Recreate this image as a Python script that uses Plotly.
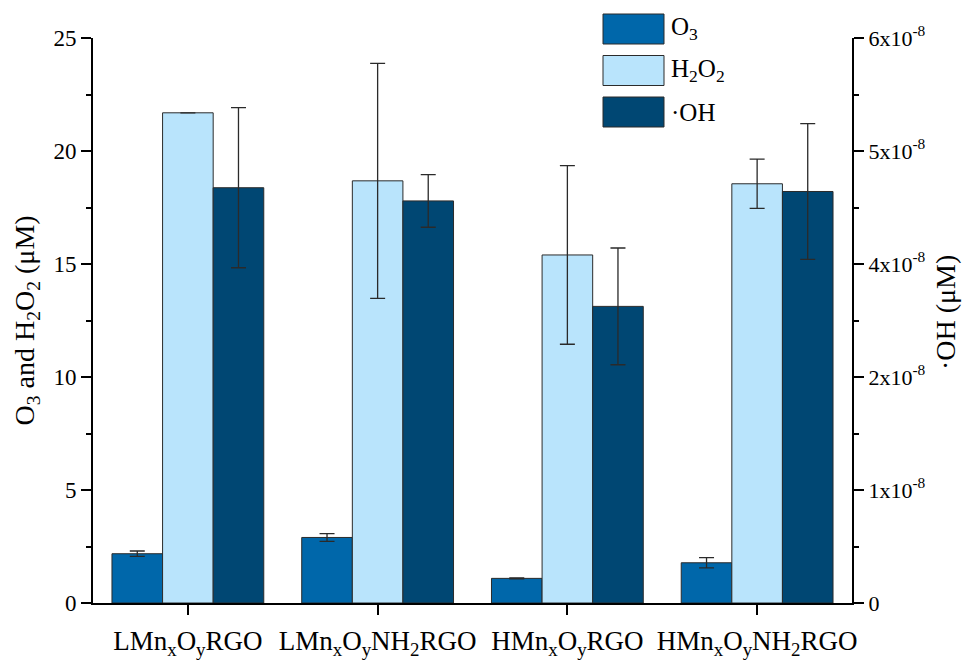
import plotly.graph_objects as go

# Samples and measured concentrations (μM)
samples = [
    "LMn<sub>x</sub>O<sub>y</sub>RGO",
    "LMn<sub>x</sub>O<sub>y</sub>NH<sub>2</sub>RGO",
    "HMn<sub>x</sub>O<sub>y</sub>RGO",
    "HMn<sub>x</sub>O<sub>y</sub>NH<sub>2</sub>RGO",
]
o3 = [2.18, 2.90, 1.09, 1.78]
o3_err = [0.12, 0.17, 0.02, 0.23]
h2o2 = [21.69, 18.68, 15.40, 18.55]
h2o2_err = [None, 5.20, 3.95, 1.09]
oh = [4.41e-8, 4.27e-8, 3.15e-8, 4.37e-8]
oh_err = [0.85e-8, 0.28e-8, 0.62e-8, 0.72e-8]

# Right-axis ticks and their printed labels
oh_tickvals = [0, 1.2e-8, 2.4e-8, 3.6e-8, 4.8e-8, 6.0e-8]
oh_ticktext = ["0", "1x10<sup>-8</sup>", "2x10<sup>-8</sup>", "4x10<sup>-8</sup>",
               "5x10<sup>-8</sup>", "6x10<sup>-8</sup>"]

names = ["O<sub>3</sub>", "H<sub>2</sub>O<sub>2</sub>", "·OH"]
colors = ["#0067aa", "#b9e4fc", "#004773"]

FONT = "Liberation Serif, Times New Roman, serif"
x = list(range(len(samples)))
bw = 0.8 / 3
outline = dict(color="#2b2b2b", width=1)


def err(vals):
    return dict(type="data", array=vals, visible=True, color="#2a2a2a",
                thickness=1.3, width=7.5)


fig = go.Figure()
fig.add_trace(go.Bar(x=x, y=o3, name=names[0], width=bw, offset=-0.4,
                     marker=dict(color=colors[0], line=outline), error_y=err(o3_err)))
fig.add_trace(go.Bar(x=x, y=h2o2, name=names[1], width=bw, offset=-0.4 + bw,
                     marker=dict(color=colors[1], line=outline), error_y=err(h2o2_err)))
fig.add_trace(go.Bar(x=x, y=oh, name=names[2], width=bw, offset=-0.4 + 2 * bw,
                     marker=dict(color=colors[2], line=outline), error_y=err(oh_err),
                     yaxis="y2"))

axis_common = dict(showline=True, linecolor="black", linewidth=2, ticks="outside",
                   tickcolor="black", tickwidth=2, ticklen=10, showgrid=False,
                   zeroline=False, automargin=False)

fig.update_layout(
    width=964, height=660,
    margin=dict(l=93, r=112, t=38, b=57),
    plot_bgcolor="white", paper_bgcolor="white",
    barmode="overlay", showlegend=False,
    font=dict(family=FONT, color="black", size=22),
    xaxis=dict(**axis_common, range=[-0.5, 3.5], tickmode="array", tickvals=x,
               ticktext=samples, tickfont=dict(size=27), tickangle=0,
               ticklabelstandoff=3),
    yaxis=dict(**axis_common, range=[0, 25], tickvals=[0, 5, 10, 15, 20, 25],
               tickfont=dict(size=23),
               minor=dict(ticks="outside", ticklen=5, tickwidth=2, tickcolor="black",
                          tick0=0, dtick=2.5)),
    yaxis2=dict(**axis_common, overlaying="y", side="right", range=[0, 6e-8],
                tickmode="array", tickvals=oh_tickvals, ticktext=oh_ticktext,
                tickfont=dict(size=22),
                minor=dict(ticks="outside", ticklen=5, tickwidth=2, tickcolor="black",
                           tickmode="linear", tick0=0, dtick=0.6e-8)),
)

# Axis titles
fig.add_annotation(text="O<sub>3</sub> and H<sub>2</sub>O<sub>2</sub> (μM)",
                   xref="paper", yref="paper", x=-0.087, y=0.50, textangle=-90,
                   showarrow=False, xanchor="center", yanchor="middle",
                   font=dict(size=28))
fig.add_annotation(text="·OH (μM)", xref="paper", yref="paper", x=1.1225, y=0.515,
                   textangle=-90, showarrow=False, xanchor="center", yanchor="middle",
                   font=dict(size=28))

# Legend drawn as large swatches at the top
plot_w, plot_h = 759, 565
for i, (nm, col) in enumerate(zip(names, colors)):
    top_px = 14 + i * 41.5
    y1 = (565 - (top_px - 38)) / plot_h
    y0 = y1 - 30 / plot_h
    fig.add_shape(type="rect", xref="paper", yref="paper",
                  x0=(603 - 93) / plot_w, x1=(664 - 93) / plot_w, y0=y0, y1=y1,
                  fillcolor=col, line=dict(color="#2b2b2b", width=1))
    fig.add_annotation(text=nm, xref="paper", yref="paper",
                       x=(669 - 93) / plot_w, y=(y0 + y1) / 2, showarrow=False,
                       xanchor="left", yanchor="middle", font=dict(size=25))

fig.write_html("out.html")
